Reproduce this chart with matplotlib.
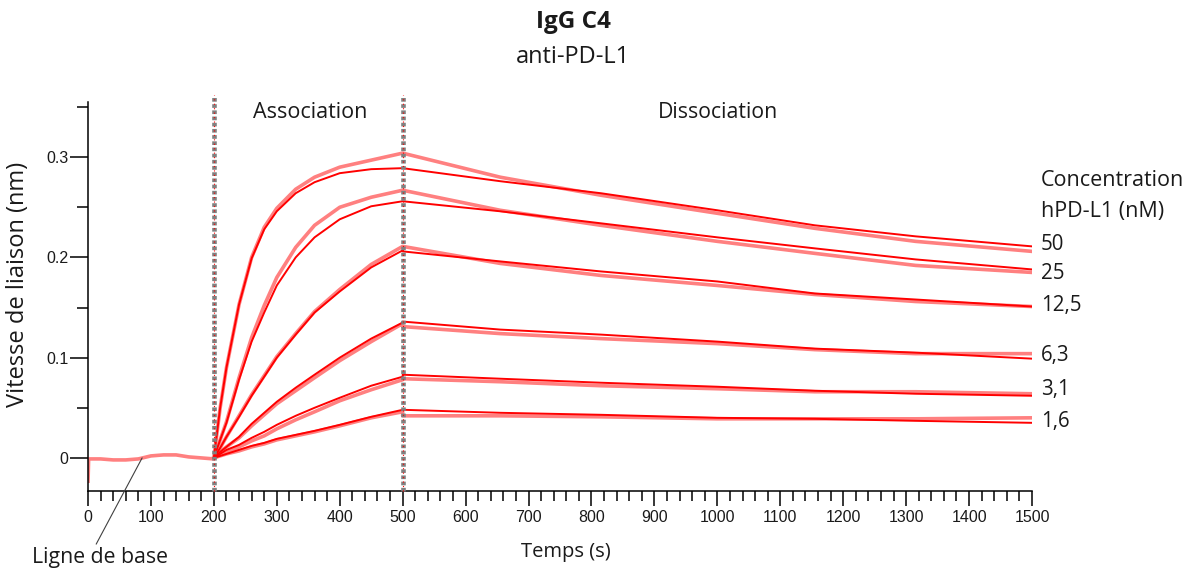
"""
Sensorgramme IgG C4 / anti-PD-L1 : association, dissociation et ajustement.
Output: out.png
"""

import matplotlib.pyplot as plt
from matplotlib.ticker import MultipleLocator, FuncFormatter

# ── Valeurs ──
concentrations = ['50', '25', '12,5', '6,3', '3,1', '1,6']

t_base = [0, 1, 20, 40, 60, 80, 100, 120, 140, 160, 180, 200]
base_obs = [-0.025, -0.001, -0.001, -0.002, -0.002, -0.001, 0.002, 0.003,
            0.003, 0.001, 0.000, -0.001]

t_assoc = [200, 210, 220, 240, 260, 280, 300, 330, 360, 400, 450, 500]
t_dissoc = [500, 655, 815, 1000, 1155, 1315, 1500]

fit_assoc = [
    [0, 0.050, 0.090, 0.153, 0.199, 0.228, 0.246, 0.264, 0.275, 0.284, 0.288, 0.289],
    [0, 0.018, 0.035, 0.078, 0.116, 0.145, 0.172, 0.200, 0.220, 0.238, 0.251, 0.256],
    [0, 0.010, 0.021, 0.041, 0.062, 0.081, 0.100, 0.123, 0.145, 0.166, 0.190, 0.207],
    [0, 0.006, 0.011, 0.021, 0.034, 0.045, 0.056, 0.070, 0.083, 0.100, 0.119, 0.135],
    [0, 0.004, 0.008, 0.013, 0.020, 0.026, 0.033, 0.042, 0.050, 0.060, 0.072, 0.081],
    [0, 0.002, 0.004, 0.008, 0.012, 0.015, 0.019, 0.023, 0.027, 0.033, 0.041, 0.048],
]
obs_assoc = [
    [0, 0.050, 0.090, 0.153, 0.200, 0.230, 0.249, 0.268, 0.280, 0.290, 0.297, 0.304],
    [0, 0.018, 0.036, 0.080, 0.120, 0.152, 0.180, 0.210, 0.232, 0.250, 0.260, 0.267],
    [0, 0.010, 0.021, 0.042, 0.063, 0.082, 0.101, 0.124, 0.146, 0.168, 0.193, 0.211],
    [0, 0.006, 0.011, 0.020, 0.032, 0.043, 0.054, 0.067, 0.080, 0.097, 0.116, 0.134],
    [0, 0.003, 0.006, 0.011, 0.017, 0.022, 0.029, 0.038, 0.046, 0.057, 0.068, 0.078],
    [0, 0.002, 0.004, 0.007, 0.011, 0.014, 0.018, 0.022, 0.026, 0.032, 0.040, 0.046],
]
fit_dissoc = [
    [0.289, 0.276, 0.264, 0.247, 0.232, 0.221, 0.211],
    [0.256, 0.246, 0.234, 0.220, 0.209, 0.198, 0.188],
    [0.206, 0.196, 0.186, 0.176, 0.164, 0.158, 0.151],
    [0.136, 0.128, 0.123, 0.116, 0.109, 0.105, 0.099],
    [0.083, 0.079, 0.075, 0.071, 0.067, 0.064, 0.062],
    [0.048, 0.045, 0.043, 0.040, 0.039, 0.037, 0.035],
]
obs_dissoc = [
    [0.304, 0.280, 0.262, 0.244, 0.229, 0.216, 0.206],
    [0.267, 0.247, 0.232, 0.216, 0.204, 0.192, 0.185],
    [0.211, 0.194, 0.182, 0.172, 0.163, 0.156, 0.151],
    [0.131, 0.124, 0.119, 0.114, 0.108, 0.104, 0.104],
    [0.079, 0.076, 0.072, 0.069, 0.066, 0.066, 0.064],
    [0.042, 0.042, 0.041, 0.039, 0.039, 0.039, 0.040],
]
phase_edges = [200, 500]

OBS_COLOR = '#FF8080'
FIT_COLOR = '#FF0000'
TXT_FONT = ['Open Sans', 'DejaVu Sans']
TICK_FONT = ['Liberation Sans', 'DejaVu Sans']

plt.rcParams['font.family'] = TICK_FONT

W, H = 1187, 570
fig = plt.figure(figsize=(W / 100, H / 100), dpi=100)
ax = fig.add_axes([88 / W, 1 - 491 / H, 944 / W, 389 / H])


def ftext(x, y, s, **kw):
    """Text placed in pixel coordinates measured from the top-left corner."""
    fig.text(x / W, 1 - y / H, s, family=TXT_FONT, color='#1a1a1a', **kw)


# ── Courbes ──
ax.plot(t_base, base_obs, color=OBS_COLOR, lw=2.6, solid_capstyle='butt', zorder=2)
for i in range(len(concentrations)):
    ax.plot(t_assoc + t_dissoc, obs_assoc[i] + obs_dissoc[i],
            color=OBS_COLOR, lw=2.6, zorder=2)
for i in range(len(concentrations)):
    ax.plot(t_assoc + t_dissoc, fit_assoc[i] + fit_dissoc[i],
            color=FIT_COLOR, lw=1.4, zorder=3)

# ── Limites des phases ──
for x in phase_edges:
    ax.plot([x, x], [-0.033, 0.362], color='#808080', lw=3.3,
            linestyle=(0, (0.8, 0.55)), clip_on=False, zorder=4)
    ax.plot([x, x], [-0.033, 0.362], color=FIT_COLOR, lw=0.8,
            linestyle=(0, (1, 3)), clip_on=False, zorder=5)

ax.set_xlim(0, 1500)
ax.set_ylim(-0.033, 0.355)

for side in ['top', 'right']:
    ax.spines[side].set_visible(False)
for side in ['left', 'bottom']:
    ax.spines[side].set_linewidth(1.1)

ax.xaxis.set_major_locator(MultipleLocator(100))
ax.xaxis.set_minor_locator(MultipleLocator(20))
ax.yaxis.set_major_locator(MultipleLocator(0.1))
ax.yaxis.set_minor_locator(MultipleLocator(0.05))
ax.yaxis.set_major_formatter(FuncFormatter(lambda v, p: f'{v:g}'))
ax.tick_params(axis='x', which='major', length=11, width=1.1, pad=3,
               labelsize=11.5, labelcolor='#1a1a1a')
ax.tick_params(axis='x', which='minor', length=7, width=1.1)
ax.tick_params(axis='y', which='major', length=13, width=1.1, pad=1,
               labelsize=11.5, labelcolor='#1a1a1a')
ax.tick_params(axis='y', which='minor', length=8, width=1.1)

# ── Annotation ligne de base ──
ax.annotate('', xy=(86, 0.0), xytext=(13, -0.086),
            arrowprops=dict(arrowstyle='-', lw=0.8, color='#404040',
                            shrinkA=0, shrinkB=0),
            annotation_clip=False)

# ── Textes ──
ftext(573, 22, 'IgG C4', fontsize=17.5, fontweight='bold', ha='center', va='center')
ftext(573, 57, 'anti-PD-L1', fontsize=17, ha='center', va='center')
ftext(310, 113, 'Association', fontsize=15.5, ha='center', va='center')
ftext(718, 113, 'Dissociation', fontsize=15.3, ha='center', va='center')
ftext(1041, 181, 'Concentration', fontsize=15.5, ha='left', va='center')
ftext(1041, 211, 'hPD-L1 (nM)', fontsize=15.5, ha='left', va='center')
label_y = [244, 274, 305, 355, 389, 421]
for lab, y in zip(concentrations, label_y):
    ftext(1041, y, lab, fontsize=14.8, ha='left', va='center')
ftext(18, 284, 'Vitesse de liaison (nm)', fontsize=17, rotation=90,
      ha='center', va='center')
ftext(566, 552, 'Temps (s)', fontsize=14.5, ha='center', va='center')
ftext(100, 557, 'Ligne de base', fontsize=15.3, ha='center', va='center')

fig.savefig('out.png', dpi=100)
print("out.png generated")
